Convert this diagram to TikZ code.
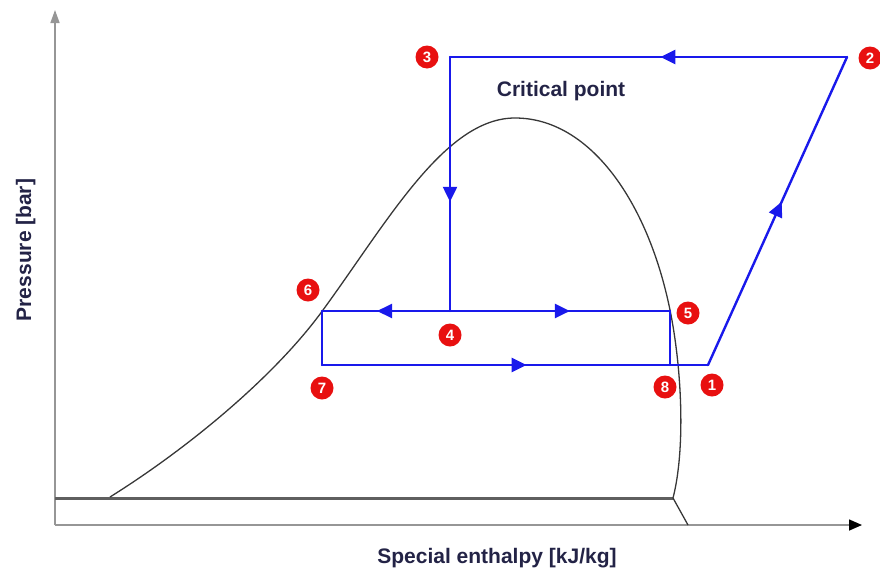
\documentclass[tikz,border=0pt]{standalone}
\usepackage{xcolor}
\usepackage{fontspec}
\setmainfont{Liberation Sans}
\usetikzlibrary{arrows.meta,positioning,calc,decorations.markings}
\definecolor{cycleblue}{RGB}{25, 25, 235}
\definecolor{markred}{RGB}{232, 16, 16}
\definecolor{axisgray}{RGB}{150, 150, 150}
\definecolor{domegray}{RGB}{55, 55, 55}
\definecolor{labeltext}{RGB}{35, 35, 70}

\tikzset{
    cycleline/.style={cycleblue, line width=2.4pt, line cap=round},
    midarrow/.style={postaction={decorate}, decoration={markings,
        mark=at position #1 with {\arrow{Triangle[length=15pt, width=14pt]}}}},
    statenum/.style={circle, fill=markred, text=white, inner sep=0pt,
        minimum size=23pt, font=\fontsize{15}{15}\selectfont\bfseries},
    axislabel/.style={text=labeltext, font=\fontsize{21}{25}\selectfont\bfseries},
}

\begin{document}
\begin{tikzpicture}[x=1pt, y=-1pt]
    \useasboundingbox (0,0) rectangle (880,573);
    % axes
    \coordinate (origin) at (55,525);
    \coordinate (ytip) at (55,10);
    \coordinate (xtip) at (862,525);
    \draw[axisgray, line width=1.5pt, -{Triangle[length=13pt, width=9pt]}] (origin) -- (ytip);
    \draw[axisgray, line width=1.5pt, -{Triangle[length=13pt, width=11pt, black]}] (origin) -- (xtip);
    \draw[domegray!80, line width=3pt] (55,498) -- (673,498);
    % saturation dome
    \draw[domegray, line width=1.3pt] (110,497)
        .. controls (190,447) and (276,375) .. (323,310)
        .. controls (388,221) and (445,118) .. (515,118)
        .. controls (590,118) and (648,202) .. (670,310)
        .. controls (682,369) and (685.5,449.5) .. (673,498)
        -- (688,525);
    % cycle points
    \coordinate (p1) at (708,365);
    \coordinate (p2) at (847,57);
    \coordinate (p3) at (450,57);
    \coordinate (p4) at (450,311);
    \coordinate (p5) at (670,311);
    \coordinate (p6) at (322,311);
    \coordinate (p7) at (322,365);
    \coordinate (p8) at (670,365);
    \draw[cycleline, midarrow=0.47] (p2) -- (p3);
    \draw[cycleline, midarrow=0.57] (p3) -- (p4);
    \draw[cycleline, midarrow=0.57] (p4) -- (p6);
    \draw[cycleline, midarrow=0.545] (p4) -- (p5);
    \draw[cycleline] (p6) -- (p7);
    \draw[cycleline, midarrow=0.53] (p7) -- (p1);
    \draw[cycleline] (p5) -- (p8);
    \draw[cycleline, midarrow=0.53] (p1) -- (p2);
    % point numbers
    \node[statenum] (n1) at (712,385) {1};
    \node[statenum] (n2) at (870,58) {2};
    \node[statenum] (n3) at (427,57) {3};
    \node[statenum] (n4) at (450,335) {4};
    \node[statenum] (n5) at (688,313) {5};
    \node[statenum] (n6) at (308,290) {6};
    \node[statenum] (n7) at (322,388) {7};
    \node[statenum] (n8) at (665,387) {8};
    % texts
    \node[axislabel, anchor=base] (critlabel) at (561,96) {Critical point};
    \node[axislabel, anchor=base] (xlabel) at (497,563) {Special enthalpy [kJ/kg]};
    \node[axislabel, anchor=base, rotate=90] (ylabel) at (31,250) {Pressure [bar]};
\end{tikzpicture}
\end{document}
